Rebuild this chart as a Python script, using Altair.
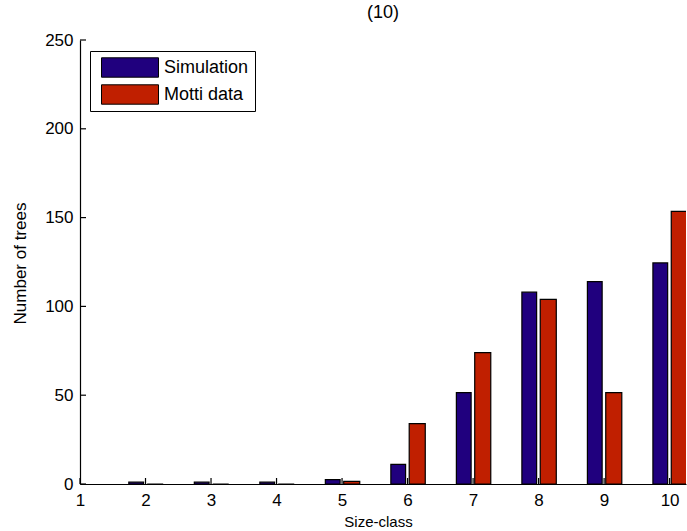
import altair as alt
import pandas as pd

# ---- data ----
size_classes = [2, 3, 4, 5, 6, 7, 8, 9, 10]
simulation = [1, 1, 1, 2.5, 11, 51.5, 108, 114, 124.5]
motti_data = [0, 0, 0, 1.5, 34, 74, 104, 51.5, 153.5]
series_names = ["Simulation", "Motti data"]
series_colors = ["#20007E", "#C01F00"]
x_ticks = [1, 2, 3, 4, 5, 6, 7, 8, 9, 10]
y_ticks = [0, 50, 100, 150, 200, 250]

rows = []
for s, a, b in zip(size_classes, simulation, motti_data):
    rows.append({"size": s, "series": series_names[0], "value": a, "idx": 0})
    rows.append({"size": s, "series": series_names[1], "value": b, "idx": 1})
df = pd.DataFrame(rows)

W, H = 606, 444
FONT = "Liberation Sans"
TICK = 6

xscale = alt.Scale(domain=[1, 10.25], nice=False, zero=False)
yscale = alt.Scale(domain=[0, 250], nice=False)

x_axis = alt.Axis(
    values=x_ticks, format="d", ticks=False, grid=False, domainColor="black",
    domainWidth=1.2, labelFont=FONT, labelFontSize=17, labelColor="black",
    labelPadding=8, labelFlush=False, title="Size-class", titleFont=FONT,
    titleFontSize=15, titleFontWeight="normal", titleColor="black",
    titleX=298, titleY=42, titleBaseline="alphabetic", titleAlign="center",
)
y_axis = alt.Axis(
    values=y_ticks, format="d", ticks=False, grid=False, domainColor="black",
    domainWidth=1.2, labelFont=FONT, labelFontSize=17, labelColor="black",
    labelPadding=7, labelFlush=False, title="Number of trees", titleFont=FONT,
    titleFontSize=17, titleFontWeight="normal", titleColor="black",
    titleX=-60, titleY=223, titleAngle=-90, titleBaseline="middle",
    titleAlign="center",
)

base = alt.Chart(df).transform_calculate(
    x0="datum.size + (datum.idx == 0 ? -0.255 : 0.025)",
    x1="datum.size + (datum.idx == 0 ? -0.03 : 0.27)",
)

bars = base.mark_bar(stroke="black", strokeWidth=1.2, clip=True).encode(
    x=alt.X("x0:Q", scale=xscale, axis=x_axis),
    x2="x1:Q",
    y=alt.Y("value:Q", scale=yscale, axis=y_axis),
    y2=alt.datum(0),
    color=alt.Color(
        "series:N",
        scale=alt.Scale(domain=series_names, range=series_colors),
        legend=alt.Legend(
            title=None, orient="none", legendX=10, legendY=11,
            strokeColor="black", fillColor="white", padding=6,
            symbolType="M-1,-0.34L1,-0.34L1,0.34L-1,0.34Z", symbolSize=3249,
            symbolStrokeColor="black", symbolStrokeWidth=1, symbolOpacity=1,
            symbolOffset=5, clipHeight=21, rowPadding=6, labelOffset=5,
            labelFont=FONT, labelFontSize=18, labelColor="black",
        ),
    ),
)

# inward-pointing ticks (MATLAB style)
xt = alt.Chart(pd.DataFrame({"t": x_ticks})).mark_rule(
    color="black", strokeWidth=1.2
).encode(
    x=alt.X("t:Q", scale=xscale, axis=x_axis),
    y=alt.value(H),
    y2=alt.value(H - TICK),
)
yt = alt.Chart(pd.DataFrame({"t": y_ticks})).mark_rule(
    color="black", strokeWidth=1.2
).encode(
    y=alt.Y("t:Q", scale=yscale, axis=y_axis),
    x=alt.value(0),
    x2=alt.value(TICK),
)

chart = (
    alt.layer(bars, xt, yt)
    .properties(
        width=W, height=H,
        title=alt.TitleParams("(10)", font=FONT, fontSize=18, fontWeight="normal",
                              color="black", offset=9),
        padding={"left": 80, "top": 40, "right": 1, "bottom": 47},
        autosize=alt.AutoSizeParams(type="none"),
        background="white",
    )
    .configure_view(stroke=None)
)

chart.save("out.html", embed_options={"renderer": "svg", "actions": False})
